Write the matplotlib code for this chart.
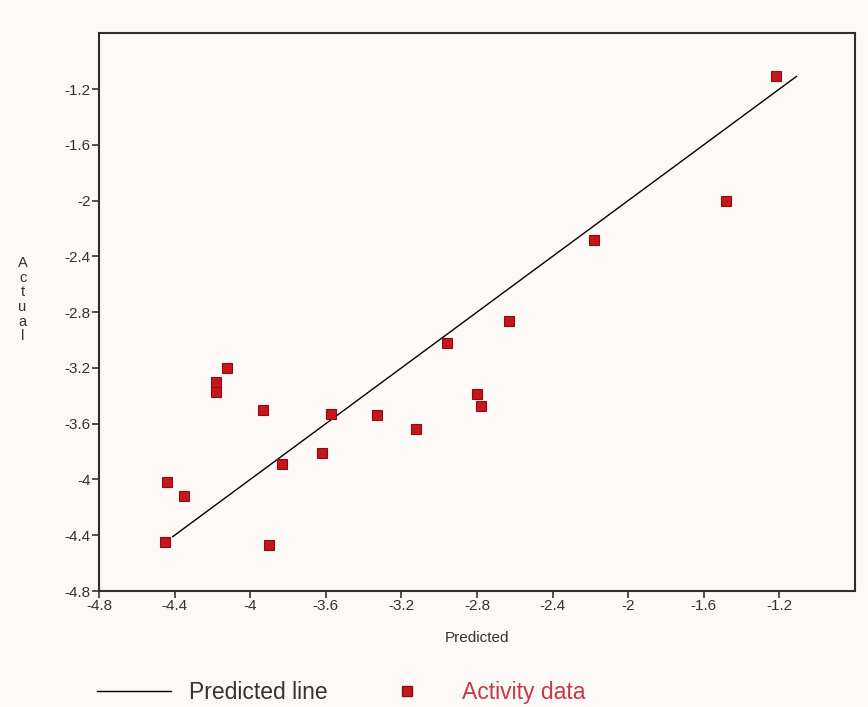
import numpy as np
from matplotlib import pyplot as plt
from matplotlib.lines import Line2D

plt.rcParams['font.family'] = ['Liberation Sans', 'DejaVu Sans']

#########################################
### Data
#########################################
predicted = [-4.12, -4.18, -4.18, -3.93, -3.57, -3.33, -3.12, -2.96, -2.80, -2.78,
             -3.62, -3.83, -4.44, -4.35, -4.45, -3.90, -1.22, -1.48, -2.18, -2.63]
actual = [-3.20, -3.30, -3.37, -3.50, -3.53, -3.54, -3.64, -3.02, -3.39, -3.47,
          -3.81, -3.89, -4.02, -4.12, -4.45, -4.47, -1.11, -2.00, -2.28, -2.86]
line_x = [-4.41, -1.11]
line_y = [-4.41, -1.11]
ticks = [-4.8, -4.4, -4.0, -3.6, -3.2, -2.8, -2.4, -2.0, -1.6, -1.2]
tick_labels = ['-4.8', '-4.4', '-4', '-3.6', '-3.2', '-2.8', '-2.4', '-2', '-1.6', '-1.2']

bg = '#fcf9f6'
fig = plt.figure(figsize=(8.68, 7.07), dpi=100, facecolor=bg)
ax = fig.add_axes([0.114, 0.164, 0.871, 0.789], facecolor=bg)

ax.plot(line_x, line_y, color='black', lw=1.0)
ax.plot(predicted, actual, 's', color='#c4161c', mec='#8e0d12', mew=0.8, ms=7.5, ls='none')

ax.set_xlim(-4.8, -0.8)
ax.set_ylim(-4.8, -0.8)
ax.set_xticks(ticks)
ax.set_xticklabels(tick_labels)
ax.set_yticks(ticks)
ax.set_yticklabels(tick_labels)
ax.tick_params(direction='out', length=5, width=1.2, colors='#333333', labelsize=11, pad=1)

for s in ax.spines.values():
    s.set_linewidth(1.5)
    s.set_color('#2e2e2e')

ax.set_xlabel('Predicted', fontsize=11, color='#333333', labelpad=13)
fig.text(0.026, 0.576, 'A\nc\nt\nu\na\nl', fontsize=10.5, color='#333333',
         ha='center', va='center', linespacing=1.05)

# legend under the plot
handles = [Line2D([], [], color='black', lw=1.0),
           Line2D([], [], marker='s', color='#c4161c', mec='#8e0d12', ls='none', ms=7.5)]
leg = fig.legend(handles, ['Predicted line', 'Activity data'], loc='center left',
                 bbox_to_anchor=(0.099, 0.02), ncol=2, frameon=False, fontsize=16.5,
                 borderpad=0, handlelength=3.2, handletextpad=0.8, columnspacing=1.85)
leg.get_texts()[0].set_color('#333333')
leg.get_texts()[1].set_color('#c23a46')

plt.savefig('out.png', dpi=100, facecolor=bg)
